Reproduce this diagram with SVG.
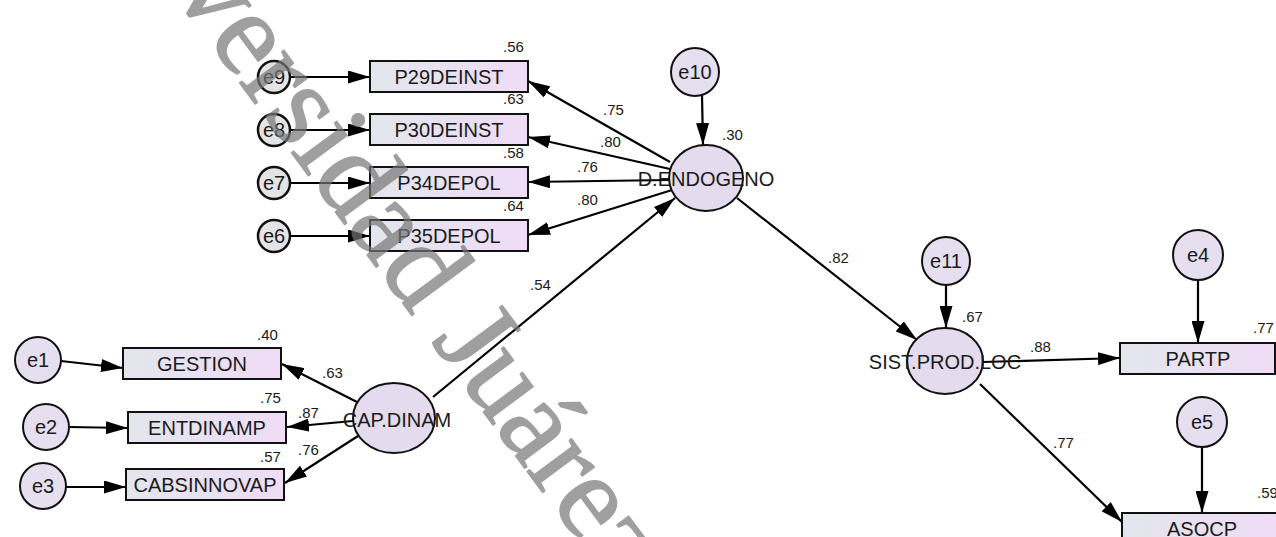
<svg xmlns="http://www.w3.org/2000/svg" width="1276" height="537" viewBox="0 0 1276 537">
<defs>
<linearGradient id="boxg" x1="0" y1="0" x2="1" y2="0">
<stop offset="0" stop-color="#e3e6ec"/>
<stop offset="1" stop-color="#efdcf6"/>
</linearGradient>
<marker id="ah" viewBox="0 0 22 13" refX="22" refY="6.5" markerWidth="22" markerHeight="13" markerUnits="userSpaceOnUse" orient="auto">
<path d="M0,0 L22,6.5 L0,13 z" fill="#000"/>
</marker>
<style>
.box{fill:url(#boxg);stroke:#111;stroke-width:2}
.lat{fill:#e4dcee;stroke:#111;stroke-width:2}
.err{fill:#e6dff0;stroke:#111;stroke-width:2}
.errg{fill:#e4e4e4;stroke:#111;stroke-width:2.5}
.lbl{font-family:"Liberation Sans",Arial,sans-serif;font-size:20px;fill:#1a1a1a;text-anchor:middle}
.num{font-family:"Liberation Sans",Arial,sans-serif;font-size:15px;fill:#1a1a1a}
.ln{stroke:#000;stroke-width:2.2;fill:none;marker-end:url(#ah)}
.wm{font-family:"Liberation Serif","Times New Roman",serif;font-size:120px;fill:#777;stroke:#777;stroke-width:1.5;stroke-linejoin:round;opacity:0.7}
</style>
</defs>
<rect width="1276" height="537" fill="#fff"/>

<g id="connectors">
<line class="ln" x1="290" y1="77" x2="370" y2="77"/>
<line class="ln" x1="290" y1="130" x2="370" y2="130"/>
<line class="ln" x1="290" y1="183" x2="370" y2="183"/>
<line class="ln" x1="290" y1="236" x2="370" y2="236"/>
<line class="ln" x1="670" y1="162" x2="528" y2="81"/>
<line class="ln" x1="670" y1="169" x2="528" y2="137"/>
<line class="ln" x1="670" y1="180" x2="528" y2="182"/>
<line class="ln" x1="672" y1="190" x2="528" y2="235"/>
<line class="ln" x1="702" y1="95" x2="703" y2="145"/>
<line class="ln" x1="433" y1="397" x2="675" y2="198"/>
<line class="ln" x1="357" y1="402" x2="282" y2="364"/>
<line class="ln" x1="353" y1="421" x2="287" y2="427"/>
<line class="ln" x1="358" y1="436" x2="285" y2="483"/>
<line class="ln" x1="61" y1="361" x2="123" y2="368"/>
<line class="ln" x1="69" y1="427" x2="128" y2="428"/>
<line class="ln" x1="66" y1="487" x2="126" y2="487"/>
<line class="ln" x1="737" y1="198" x2="917" y2="340"/>
<line class="ln" x1="946" y1="285" x2="946" y2="328"/>
<line class="ln" x1="983" y1="362" x2="1120" y2="358"/>
<line class="ln" x1="1198" y1="280" x2="1198" y2="343"/>
<line class="ln" x1="1202" y1="447" x2="1202" y2="513"/>
<line class="ln" x1="980" y1="384" x2="1122" y2="522"/>
</g>

<g id="P29DEINST"><rect class="box" x="370" y="61" width="158" height="31"/><text class="lbl" x="449" y="84">P29DEINST</text><text class="num" x="503" y="52">.56</text></g>
<g id="P30DEINST"><rect class="box" x="370" y="114" width="158" height="31"/><text class="lbl" x="449" y="137">P30DEINST</text><text class="num" x="503" y="104">.63</text></g>
<g id="P34DEPOL"><rect class="box" x="370" y="167" width="158" height="31"/><text class="lbl" x="449" y="190">P34DEPOL</text><text class="num" x="503" y="158">.58</text></g>
<g id="P35DEPOL"><rect class="box" x="370" y="220" width="158" height="31"/><text class="lbl" x="449" y="243">P35DEPOL</text><text class="num" x="503" y="211">.64</text></g>

<g id="e9"><circle class="errg" cx="274" cy="77" r="16"/><text class="lbl" x="274" y="84">e9</text></g>
<g id="e8"><circle class="errg" cx="274" cy="130" r="16"/><text class="lbl" x="274" y="137">e8</text></g>
<g id="e7"><circle class="errg" cx="274" cy="183" r="16"/><text class="lbl" x="274" y="190">e7</text></g>
<g id="e6"><circle class="errg" cx="274" cy="236" r="16"/><text class="lbl" x="274" y="243">e6</text></g>

<g id="e10"><circle class="err" cx="695" cy="72" r="24"/><text class="lbl" x="695" y="79">e10</text></g>
<g id="DENDOGENO"><ellipse class="lat" cx="706" cy="178" rx="37" ry="33"/><text class="lbl" x="706" y="186">D.ENDOGENO</text><text class="num" x="722" y="140">.30</text></g>

<g id="CAPDINAM"><ellipse class="lat" cx="394" cy="418" rx="41" ry="35"/><text class="lbl" x="397" y="427">CAP.DINAM</text></g>

<g id="GESTION"><rect class="box" x="123" y="348" width="158" height="31"/><text class="lbl" x="202" y="371">GESTION</text><text class="num" x="257" y="340">.40</text></g>
<g id="ENTDINAMP"><rect class="box" x="128" y="412" width="158" height="31"/><text class="lbl" x="207" y="435">ENTDINAMP</text><text class="num" x="260" y="403">.75</text></g>
<g id="CABSINNOVAP"><rect class="box" x="126" y="469" width="158" height="31"/><text class="lbl" x="205" y="492">CABSINNOVAP</text><text class="num" x="260" y="462">.57</text></g>

<g id="e1"><circle class="err" cx="38" cy="360" r="23"/><text class="lbl" x="38" y="367">e1</text></g>
<g id="e2"><circle class="err" cx="46" cy="427" r="23"/><text class="lbl" x="46" y="434">e2</text></g>
<g id="e3"><circle class="err" cx="43" cy="486" r="23"/><text class="lbl" x="43" y="493">e3</text></g>

<g id="SISTPRODLOC"><ellipse class="lat" cx="945" cy="361" rx="38" ry="33"/><text class="lbl" x="945" y="369">SIST.PROD.LOC</text><text class="num" x="962" y="322">.67</text></g>
<g id="e11"><circle class="err" cx="946" cy="261" r="24"/><text class="lbl" x="946" y="268">e11</text></g>

<g id="PARTP"><rect class="box" x="1120" y="343" width="155" height="31"/><text class="lbl" x="1198" y="366">PARTP</text><text class="num" x="1253" y="333">.77</text></g>
<g id="e4"><circle class="err" cx="1198" cy="255" r="25"/><text class="lbl" x="1198" y="262">e4</text></g>
<g id="ASOCP"><rect class="box" x="1122" y="513" width="156" height="31"/><text class="lbl" x="1202" y="536">ASOCP</text><text class="num" x="1257" y="498">.59</text></g>
<g id="e5"><circle class="err" cx="1202" cy="422" r="25"/><text class="lbl" x="1202" y="429">e5</text></g>

<g id="path-labels">
<text class="num" x="603" y="115">.75</text>
<text class="num" x="600" y="147">.80</text>
<text class="num" x="577" y="172">.76</text>
<text class="num" x="577" y="205">.80</text>
<text class="num" x="530" y="290">.54</text>
<text class="num" x="322" y="378">.63</text>
<text class="num" x="298" y="418">.87</text>
<text class="num" x="298" y="455">.76</text>
<text class="num" x="828" y="263">.82</text>
<text class="num" x="1030" y="352">.88</text>
<text class="num" x="1053" y="448">.77</text>
</g>

<text class="wm" transform="translate(171,-10) rotate(53.5)">versidad Juárez</text>
</svg>
